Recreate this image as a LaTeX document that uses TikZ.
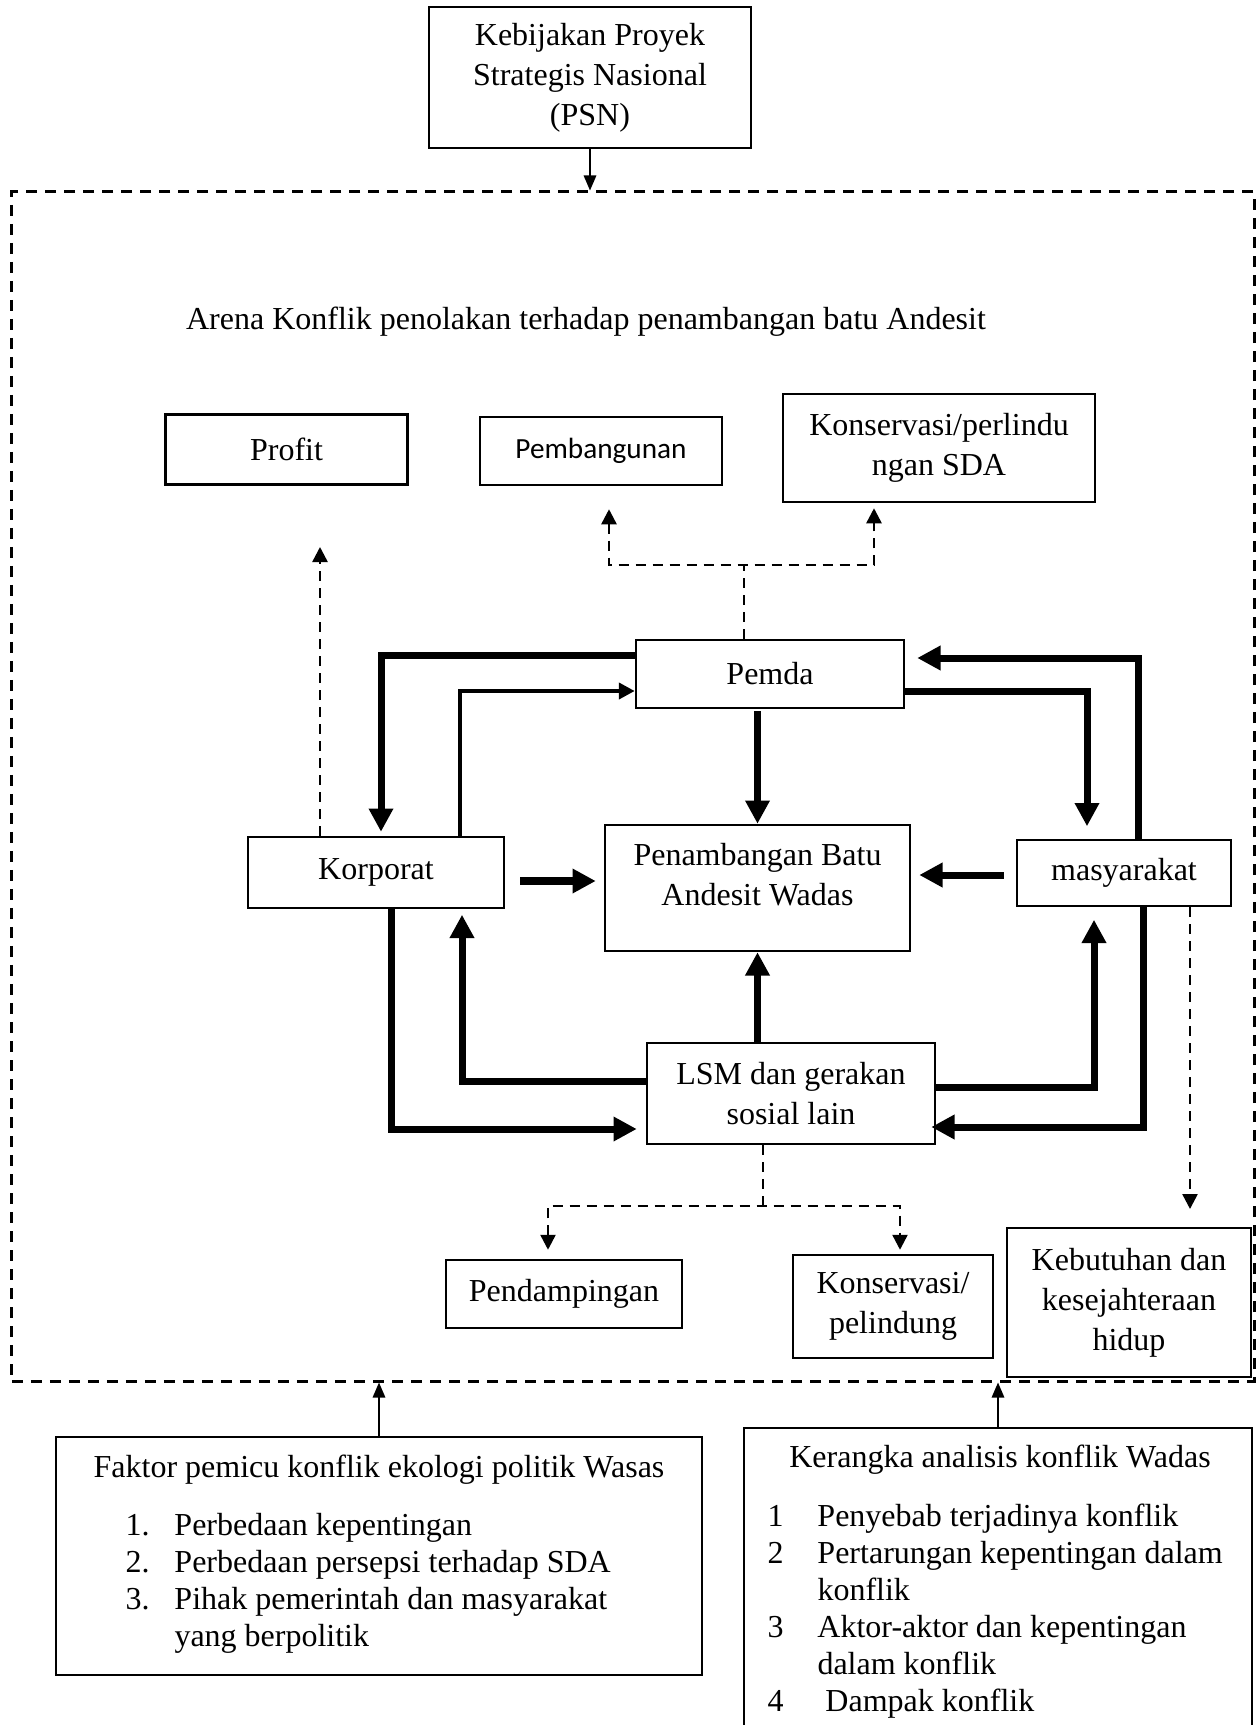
\documentclass[tikz,border=0pt]{standalone}
\usepackage{fontspec}
\setmainfont{Liberation Serif}
\newfontfamily\sansfont{Carlito}
\usetikzlibrary{arrows.meta}

\begin{document}
\begin{tikzpicture}%
	[x=0.4pt, y=-0.4pt,
	font=\fontsize{12.8}{16}\selectfont,
	box/.style={draw=black, line width=1pt, inner sep=0pt, align=center},
	arena/.style={draw=black, line width=1.2pt, dash pattern=on 4.4pt off 3.2pt, inner sep=0pt},
	bigedge/.style={line width=2.8pt, >={Triangle[length=9.3pt, width=9.3pt]}, ->},
	midedge/.style={line width=1.6pt, >={Triangle[length=6.4pt, width=6.4pt]}, ->},
	thinedge/.style={line width=0.6pt, >={Triangle[length=6pt, width=5pt]}, ->},
	dashline/.style={line width=1pt, dash pattern=on 4pt off 2.8pt},
	dashedge/.style={dashline, >={Triangle[length=6pt, width=6pt]}, ->},
	listtext/.style={anchor=base west, inner sep=0pt, font=\fontsize{12.8}{14.8}\selectfont}]
	\useasboundingbox (0,0) rectangle (1259,1725);

	\node[box, minimum width=128.8pt, minimum height=56.4pt, font=\fontsize{12.8}{16}\selectfont] (psn) at (590,77.5) {Kebijakan Proyek\\Strategis Nasional\\(PSN)};
	\node[arena, minimum width=496.8pt, minimum height=475.6pt] (arenabox) at (633,786.5) {};
	\node (arenatitle) at (586,322) {Arena Konflik penolakan terhadap penambangan batu Andesit};

	%tujuan aktor
	\node[box, minimum width=96.8pt, minimum height=28pt] (profit) at (286.5,449.5) {Profit};
	\node[box, minimum width=96.8pt, minimum height=27.2pt, font=\sansfont\fontsize{11.7}{14}\selectfont] (pembangunan) at (601,451) {Pembangunan};
	\node[box, minimum width=124.8pt, minimum height=43.2pt] (konservasia) at (939,448) {Konservasi/perlindu\\ngan SDA};

	%aktor
	\node[box, minimum width=107.2pt, minimum height=27.2pt] (pemda) at (770,674) {Pemda};
	\node[box, minimum width=102.4pt, minimum height=28.4pt] (korporat) at (376,872.5) {Korporat};
	\node[box, minimum width=122pt, minimum height=50.4pt, text depth=10.5pt] (tambang) at (757.5,888) {Penambangan Batu\\Andesit Wadas};
	\node[box, minimum width=85.6pt, minimum height=26.4pt] (masyarakat) at (1124,873) {masyarakat};
	\node[box, minimum width=115.2pt, minimum height=40.4pt] (lsm) at (791,1093.5) {LSM dan gerakan\\sosial lain};

	\node[box, minimum width=94.4pt, minimum height=27.2pt] (pendampingan) at (564,1294) {Pendampingan};
	\node[box, minimum width=80pt, minimum height=41.2pt] (konservasib) at (893,1306.5) {Konservasi/\\pelindung};
	\node[box, minimum width=97.6pt, minimum height=59.6pt] (kebutuhan) at (1129,1302.5) {Kebutuhan dan\\kesejahteraan\\hidup};

	%kotak bawah
	\node[box, minimum width=258.4pt, minimum height=95.2pt] (faktor) at (379,1556) {};
	\node[anchor=base, inner sep=0pt] (faktortitle) at (379,1477) {Faktor pemicu konflik ekologi politik Wasas};
	\node[listtext] (faktorlist) at (125,1535) {\begin{tabular}[t]{@{}l@{\hspace{10pt}}l@{}}
		1. & Perbedaan kepentingan\\
		2. & Perbedaan persepsi terhadap SDA\\
		3. & Pihak pemerintah dan masyarakat\\
		   & yang berpolitik
	\end{tabular}};

	\node[box, minimum width=203.2pt, minimum height=124.8pt] (kerangka) at (998,1584) {};
	\node[anchor=base, inner sep=0pt] (kerangkatitle) at (1000,1467) {Kerangka analisis konflik Wadas};
	\node[listtext] (kerangkalist) at (767,1526) {\begin{tabular}[t]{@{}l@{\hspace{13.6pt}}l@{}}
		1 & Penyebab terjadinya konflik\\
		2 & Pertarungan kepentingan dalam\\
		  & konflik\\
		3 & Aktor-aktor dan kepentingan\\
		  & dalam konflik\\
		4 & \ Dampak konflik
	\end{tabular}};

	%panah tebal
	\coordinate (pk) at (381,655);
	\coordinate (kp) at (460,691);
	\coordinate (pm) at (1087,691);
	\coordinate (mp) at (1138,658);
	\coordinate (kl) at (391,1129);
	\coordinate (lk) at (462,1081);
	\coordinate (lm) at (1094,1087);
	\coordinate (ml) at (1143,1127);
	\draw[bigedge, shorten >=1.6pt] (pemda.west |- pk) -- (pk) -- (pk |- korporat.north);
	\draw[midedge] (kp |- korporat.north) -- (kp) -- (kp -| pemda.west);
	\draw[bigedge, shorten >=5pt] (pemda.east |- pm) -- (pm) -- (pm |- masyarakat.north);
	\draw[bigedge, shorten >=4.8pt] (mp |- masyarakat.north) -- (mp) -- (mp -| pemda.east);
	\draw[bigedge, shorten <=0.8pt] (tambang.north |- pemda.south) -- (tambang.north);
	\draw[bigedge, line width=3.2pt, shorten <=6pt, shorten >=3.2pt] ([yshift=-3.4pt]korporat.east) -- ([yshift=-3.4pt]korporat.east -| tambang.west);
	\draw[bigedge, shorten <=4.8pt, shorten >=3.2pt] ([yshift=-0.8pt]masyarakat.west) -- ([yshift=-0.8pt]masyarakat.west -| tambang.east);
	\draw[bigedge, shorten >=3.6pt] (kl |- korporat.south) -- (kl) -- (kl -| lsm.west);
	\draw[bigedge, shorten >=2.2pt] (lsm.west |- lk) -- (lk) -- (lk |- korporat.south);
	\draw[bigedge] (tambang.south |- lsm.north) -- (tambang.south);
	\draw[bigedge, shorten >=5pt] (lsm.east |- lm) -- (lm) -- (lm |- masyarakat.south);
	\draw[bigedge, shorten >=-2pt] (ml |- masyarakat.south) -- (ml) -- (ml -| lsm.east);

	%panah putus-putus
	\coordinate (pf) at (320,547);
	\coordinate (ps) at (744,565);
	\coordinate (pa) at (609,565);
	\coordinate (pb) at (874,565);
	\coordinate (ls) at (763,1206);
	\coordinate (la) at (548,1206);
	\coordinate (lb) at (900,1206);
	\coordinate (mk) at (1190,1209);
	\draw[dashedge] (pf |- korporat.north) -- (pf);
	\draw[dashline] (ps |- pemda.north) -- (ps);
	\draw[dashedge, <->, shorten <=9.2pt, shorten >=2pt] (pa |- pembangunan.south) -- (pa) -- (pb) -- (pb |- konservasia.south);
	\draw[dashline] (ls |- lsm.south) -- (ls);
	\draw[dashedge, <->, shorten <=3.6pt, shorten >=1.6pt] (la |- pendampingan.north) -- (la) -- (lb) -- (lb |- konservasib.north);
	\draw[dashedge] (mk |- masyarakat.south) -- (mk);

	%panah tipis
	\draw[thinedge] (psn.south) -- (psn.south |- arenabox.north);
	\draw[thinedge] (faktor.north) -- (faktor.north |- arenabox.south);
	\draw[thinedge] (kerangka.north) -- (kerangka.north |- arenabox.south);
\end{tikzpicture}
\end{document}
